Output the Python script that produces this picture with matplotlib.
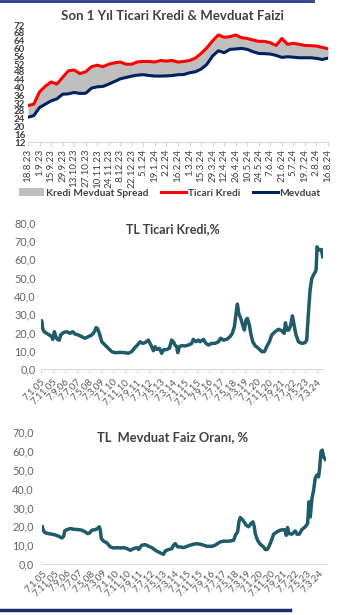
import matplotlib.pyplot as plt
from matplotlib.lines import Line2D
from matplotlib.patches import Patch
import numpy as np

plt.rcParams['font.family'] = ['Lato', 'DejaVu Sans']

# --- Son 1 yil: haftalik ticari kredi ve mevduat faizi ---
week_labels = ['18.8.23', '1.9.23', '15.9.23', '29.9.23', '13.10.23', '27.10.23',
               '10.11.23', '24.11.23', '8.12.23', '22.12.23', '5.1.24', '19.1.24',
               '2.2.24', '16.2.24', '1.3.24', '15.3.24', '29.3.24', '12.4.24',
               '26.4.24', '10.5.24', '24.5.24', '7.6.24', '21.6.24', '5.7.24',
               '19.7.24', '2.8.24', '16.8.24']

kredi = [30.7, 31.4, 37.7, 40.6, 42.8, 41.7, 45.1, 48.5, 48.9, 47.1,
         48.0, 50.6, 51.4, 50.6, 51.9, 52.6, 53.0, 51.9, 51.9, 53.1,
         53.3, 53.3, 53.0, 53.8, 53.5, 53.8, 53.0, 53.3, 53.8, 55.0,
         57.4, 60.3, 63.9, 66.9, 65.7, 66.0, 66.9, 65.5, 65.1, 64.3,
         63.6, 63.6, 62.9, 61.5, 65.1, 62.1, 62.6, 62.1, 61.5, 61.4,
         61.2, 60.5, 59.8]

mevduat = [24.7, 25.5, 29.7, 31.4, 33.1, 34.1, 36.5, 36.7, 37.4, 36.9,
           37.0, 39.6, 40.3, 40.5, 41.7, 43.0, 44.4, 45.1, 45.8, 46.3,
           46.5, 46.1, 45.8, 45.8, 45.9, 46.1, 46.5, 46.6, 47.5, 48.0,
           49.4, 51.8, 56.1, 58.8, 57.8, 59.5, 59.7, 60.0, 59.5, 58.3,
           57.4, 57.3, 57.1, 56.4, 55.4, 55.7, 55.5, 55.2, 55.2, 55.2,
           54.9, 54.3, 55.0]

# --- uzun donem (ay sayisi, 7.1.05'ten itibaren) ---
long_labels = ['7.1.05', '7.11.05', '7.9.06', '7.7.07', '7.5.08', '7.3.09', '7.1.10',
               '7.11.10', '7.9.11', '7.7.12', '7.5.13', '7.3.14', '7.1.15', '7.11.15',
               '7.9.16', '7.7.17', '7.5.18', '7.3.19', '7.1.20', '7.11.20', '7.9.21',
               '7.7.22', '7.5.23', '7.3.24']

kredi_ay = [0.0, 0.8, 1.7, 2.8, 5.0, 7.2, 9.2, 10.0, 11.4, 12.5,
            13.9, 15.5, 16.6, 18.9, 21.6, 24.4, 26.6, 28.6, 31.4, 34.1,
            36.9, 39.7, 42.5, 44.7, 46.1, 47.2, 48.8, 50.8, 53.6, 56.3,
            59.1, 61.9, 66.0, 70.2, 73.0, 75.7, 78.5, 81.3, 82.7, 84.9,
            86.8, 89.6, 91.0, 92.4, 93.8, 95.2, 96.6, 98.8, 100.7, 102.1,
            104.9, 107.1, 109.0, 110.4, 111.8, 113.2, 114.0, 115.4, 117.4, 120.1,
            122.9, 125.7, 127.0, 129.3, 131.2, 132.6, 135.4, 137.6, 139.6, 142.3,
            145.1, 147.9, 149.8, 152.1, 154.8, 157.6, 159.5, 161.2, 162.6, 163.7,
            164.8, 166.5, 168.1, 169.5, 170.9, 172.0, 173.7, 174.8, 176.5, 178.4,
            181.2, 184.0, 186.2, 188.1, 190.3, 192.3, 195.1, 197.8, 200.6, 202.6,
            203.7, 204.8, 206.4, 208.1, 209.5, 210.9, 212.5, 214.5, 217.3, 220.0,
            221.4, 222.8, 224.2, 225.6, 227.5, 229.2, 230.0, 231.1, 232.5, 233.6,
            234.7]
kredi_tl = [24.0, 26.4, 22.0, 20.4, 19.5, 18.6, 17.7, 16.2, 20.4, 17.7,
            16.2, 15.8, 18.6, 19.9, 20.4, 19.5, 20.4, 19.1, 18.6, 17.7,
            16.8, 17.7, 18.6, 20.4, 22.6, 22.2, 19.5, 14.9, 13.1, 11.3,
            9.5, 8.9, 9.1, 8.9, 8.6, 9.5, 11.7, 13.7, 14.9, 14.0,
            14.4, 15.8, 14.0, 12.2, 10.0, 12.2, 10.7, 11.3, 8.6, 10.4,
            10.7, 11.3, 15.8, 14.9, 13.1, 12.2, 8.9, 12.2, 12.8, 12.6,
            13.1, 14.0, 16.2, 14.9, 15.8, 14.9, 16.2, 14.0, 13.1, 14.0,
            14.0, 14.9, 16.8, 15.8, 16.2, 17.7, 19.5, 23.1, 30.4, 35.5,
            30.4, 27.7, 24.0, 21.3, 26.8, 27.7, 24.0, 19.5, 14.9, 12.8,
            11.3, 9.5, 9.5, 12.2, 14.9, 18.6, 20.4, 21.7, 20.9, 19.5,
            25.3, 21.3, 21.3, 24.0, 29.1, 24.0, 18.6, 14.9, 14.0, 14.4,
            15.8, 30.4, 43.2, 49.5, 51.9, 54.1, 66.8, 65.4, 65.0, 65.4,
            61.4]

mevduat_ay = [0.0, 1.1, 2.5, 5.3, 8.0, 10.8, 13.6, 16.4, 17.8, 18.6,
              20.5, 23.3, 26.1, 30.2, 33.0, 35.8, 37.7, 39.4, 41.3, 44.1,
              46.1, 47.4, 48.3, 49.1, 51.1, 53.8, 56.6, 59.4, 62.2, 64.9,
              67.7, 70.5, 73.3, 76.0, 78.8, 80.2, 81.6, 83.0, 85.7, 88.5,
              91.3, 94.1, 96.8, 99.6, 101.0, 102.4, 105.2, 107.9, 109.3, 110.7,
              112.7, 114.9, 117.7, 120.4, 123.2, 126.0, 128.7, 131.5, 134.3, 137.1,
              141.2, 144.0, 146.8, 148.2, 150.9, 153.7, 156.5, 159.3, 160.7, 162.6,
              163.7, 164.8, 167.0, 169.8, 171.8, 173.7, 175.4, 176.5, 177.3, 179.2,
              181.5, 184.2, 185.6, 187.0, 188.3, 189.7, 191.1, 192.6, 195.3, 198.1,
              200.9, 202.3, 203.1, 204.2, 205.3, 207.8, 210.6, 212.0, 213.9, 216.1,
              218.9, 220.9, 222.0, 223.1, 224.5, 225.9, 227.2, 228.6, 230.0, 230.9,
              232.0, 233.1, 234.2, 235.6]
mevduat_tl = [19.8, 17.6, 16.6, 16.2, 15.9, 15.5, 14.8, 13.9, 14.8, 17.6,
              18.3, 18.9, 18.5, 18.3, 18.0, 17.1, 16.2, 16.6, 18.0, 18.3,
              18.9, 19.8, 18.0, 13.6, 12.2, 11.3, 9.2, 8.6, 8.8, 8.6,
              8.8, 8.3, 7.4, 8.3, 8.8, 7.8, 9.2, 10.1, 10.4, 9.5,
              8.8, 7.4, 6.5, 5.6, 5.3, 7.1, 7.8, 8.3, 10.1, 10.9,
              9.2, 9.2, 8.8, 9.5, 10.1, 10.6, 10.9, 10.6, 10.1, 9.5,
              9.5, 10.1, 11.3, 11.8, 12.2, 12.2, 12.3, 12.7, 15.3, 17.1,
              22.4, 24.7, 23.3, 20.6, 19.8, 21.5, 22.4, 19.8, 16.2, 12.7,
              10.6, 9.2, 7.8, 7.8, 8.8, 10.9, 13.1, 15.9, 17.1, 18.0,
              18.3, 18.0, 15.3, 19.4, 16.2, 15.9, 17.6, 15.9, 15.9, 18.3,
              19.8, 21.5, 33.0, 25.0, 34.7, 39.2, 45.3, 47.1, 46.2, 50.6,
              59.4, 60.3, 56.8, 55.4]

W, H = 338, 615
fig = plt.figure(figsize=(W / 100, H / 100), dpi=100)


def box(x0, y0, x1, y1):
    # pixel box -> figure fraction
    return [x0 / W, 1 - y1 / H, (x1 - x0) / W, (y1 - y0) / H]


txt = '#404040'
grid = '#D9D9D9'
teal = '#1F5B69'

# ---------- panel 1 ----------
ax1 = fig.add_axes(box(28, 25, 328, 142))
x = np.arange(len(kredi))
ax1.fill_between(x, mevduat, kredi, color='#BFBFBF', lw=0)
ax1.plot(x, kredi, color='#FF0000', lw=2.2, solid_capstyle='round')
ax1.plot(x, mevduat, color='#002060', lw=2.2, solid_capstyle='round')
ax1.set_xlim(0, len(kredi) - 1)
ax1.set_ylim(12, 72)
ax1.set_yticks(range(12, 73, 4))
ax1.set_xticks(x[::2])
ax1.set_xticklabels(week_labels, rotation=90)
for s in ['top', 'right', 'left']:
    ax1.spines[s].set_visible(False)
ax1.spines['bottom'].set_color(grid)
ax1.tick_params(axis='y', length=0, pad=2, labelsize=7, labelcolor=txt)
ax1.tick_params(axis='x', length=3, color=grid, pad=2, labelsize=7, labelcolor=txt)
for t in ax1.get_yticklabels():
    t.set_fontweight('bold')
fig.text(172 / W, 1 - 16 / H, 'Son 1 Yıl Ticari Kredi & Mevduat Faizi',
         ha='center', va='center', fontsize=9.5, fontweight='bold', color=txt)

handles = [Patch(facecolor='#BFBFBF', edgecolor='none'),
           Line2D([], [], color='#FF0000', lw=2.2),
           Line2D([], [], color='#002060', lw=2.2)]
leg = fig.legend(handles, ['Kredi Mevduat Spread', 'Ticari Kredi', 'Mevduat'],
                 loc='center', bbox_to_anchor=(170 / W, 1 - 193 / H), ncol=3,
                 frameon=False, fontsize=7.3, handlelength=2.4, handletextpad=0.2,
                 columnspacing=1.3)
for t in leg.get_texts():
    t.set_color(txt)
    t.set_fontweight('bold')


def long_panel(ax, months, vals, top, xmax, ticks_on, ypad):
    ax.plot(months, vals, color=teal, lw=2.5, solid_joinstyle='round')
    ax.set_xlim(0, xmax)
    ax.set_ylim(0, top)
    ax.set_yticks(range(0, top + 1, 10))
    ax.set_yticklabels([f'{v:.1f}'.replace('.', ',') for v in range(0, top + 1, 10)])
    ax.set_xticks(range(0, 10 * len(long_labels), 10))
    ax.set_xticklabels(long_labels, rotation=45, ha='right', rotation_mode='anchor')
    for s in ['top', 'right', 'left']:
        ax.spines[s].set_visible(False)
    ax.spines['bottom'].set_color(grid)
    ax.tick_params(axis='y', length=0, pad=ypad, labelsize=7.8, labelcolor='#666666')
    ax.tick_params(axis='x', length=3 if ticks_on else 0, color=grid, pad=3,
                   labelsize=7, labelcolor='#595959')


# ---------- panel 2 ----------
ax2 = fig.add_axes(box(40.7, 222.7, 322.7, 369))
long_panel(ax2, kredi_ay, kredi_tl, 80, 234.7, True, 3.5)
fig.text(173 / W, 1 - 229 / H, 'TL Ticari Kredi,%', ha='center', va='center',
         fontsize=9, fontweight='bold', color=txt)

# ---------- panel 3 ----------
ax3 = fig.add_axes(box(42.3, 431.7, 326, 564.3))
long_panel(ax3, mevduat_ay, mevduat_tl, 70, 236.2, False, 6)
fig.text(173 / W, 1 - 437 / H, 'TL  Mevduat Faiz Oranı, %', ha='center', va='center',
         fontsize=9.3, fontweight='bold', color=txt)

# page decoration lines
fig.add_artist(Line2D([0, 313 / W], [1 - 1 / H] * 2, color='#2B3A8A', lw=2))
fig.add_artist(Line2D([0, 290 / W], [1 - 610 / H] * 2, color='#1F2A6E', lw=2.5))

fig.savefig('out.png', dpi=100)
